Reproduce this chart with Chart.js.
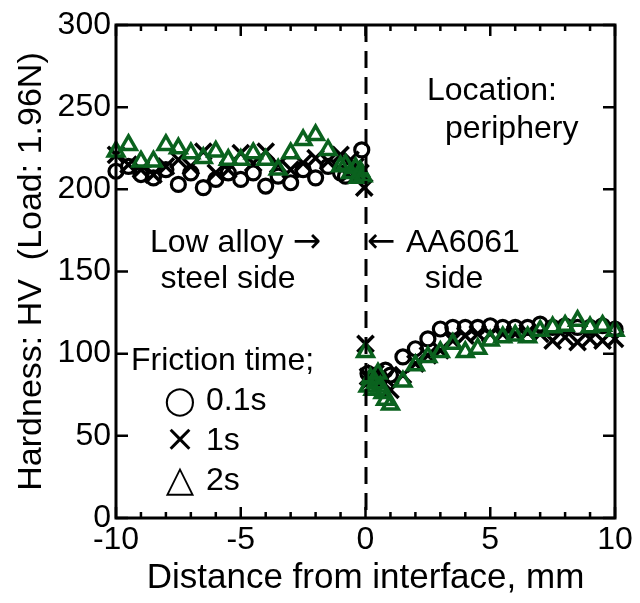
<!DOCTYPE html>
<html>
<head>
<meta charset="utf-8">
<script src="https://cdn.jsdelivr.net/npm/chart.js@4/dist/chart.umd.min.js"></script>
<style>
html, body { margin: 0; padding: 0; background: #fff; }
#wrap { width: 640px; height: 603px; }
</style>
</head>
<body>
<div id="wrap"><canvas id="hvChart"></canvas></div>
<script>

// hardness profiles across the weld interface (periphery)
var dist01 = [-10, -9.5, -9, -8.5, -8, -7.5, -7, -6.5, -6, -5.5, -5, -4.5, -4, -3.5, -3, -2.5, -2, -1.5, -1, -0.8, -0.6, -0.4, -0.15,
              0.1, 0.2, 0.4, 0.6, 0.8, 1, 1.5, 2, 2.5, 3, 3.5, 4, 4.5, 5, 5.5, 6, 6.5, 7, 7.5, 8, 8.5, 9, 9.5, 10];
var hv01 = [211, 214, 209, 207, 212, 203, 210, 201, 206, 210, 206, 210, 202, 208, 204, 212, 207, 214, 210, 208, 212, 210, 224,
            88, 84, 87, 85, 90, 87, 98, 103, 109, 115, 116, 116, 116, 117, 116, 116, 116, 118, 116, 117, 116, 116, 117, 115];

var dist1 = [-10, -9.5, -9, -8.5, -8, -7.5, -7, -6.5, -6, -5.5, -5, -4.5, -4, -3.5, -3, -2.5, -2, -1.5, -1, -0.6, -0.4, -0.2, -0.05,
             0, 0.1, 0.2, 0.4, 0.6, 0.8, 1, 1.5, 2, 2.5, 3, 3.5, 4, 4.5, 5, 5.5, 6, 6.5, 7, 7.5, 8, 8.5, 9, 9.5, 10];
var hv1 = [221, 215, 212, 209, 214, 218, 214, 223, 210, 212, 222, 216, 223, 215, 212, 216, 219, 217, 221, 218, 214, 210, 201,
           106, 86, 84, 88, 82, 85, 78, 87, 94, 99, 102, 108, 111, 112, 112, 112, 112, 113, 112, 108, 110, 107, 109, 108, 109];

var dist2 = [-10, -9.5, -9, -8.5, -8, -7.5, -7, -6.5, -6, -5.5, -5, -4.5, -4, -3.5, -3, -2.5, -2, -1.5, -1, -0.8, -0.6, -0.4, -0.3, -0.2, -0.1,
             0, 0.1, 0.2, 0.3, 0.4, 0.5, 0.6, 0.7, 0.8, 1, 1.5, 2, 2.5, 3, 3.5, 4, 4.5, 5, 5.5, 6, 6.5, 7, 7.5, 8, 8.5, 9, 9.5, 10];
var hv2 = [223, 227, 217, 217, 227, 225, 222, 219, 223, 218, 218, 222, 218, 212, 222, 230, 233, 224, 214, 215, 210, 213, 207, 211, 208,
           101, 80, 85, 78, 82, 88, 80, 76, 72, 69, 83, 93, 98, 101, 106, 101, 103, 108, 110, 111, 110, 114, 116, 117, 120, 116, 117, 114];

var FONT = '"Liberation Sans", Arial, sans-serif';
var SYM_FONT = '"DejaVu Sans", sans-serif';
var GREEN = 'rgb(10, 98, 30)';

function pts(xs, ys) {
    return xs.map(function (v, i) { return { x: v, y: ys[i] }; });
}

// frame with inward ticks, the interface line and the annotations
var frameNotes = {
    id: 'frameNotes',
    afterDatasetsDraw: function (chart) {
        var ctx = chart.ctx, a = chart.chartArea;
        var xs = chart.scales.x, ys = chart.scales.y;
        ctx.save();
        ctx.strokeStyle = '#000';
        ctx.lineWidth = 3;

        var x0 = Math.round(xs.getPixelForValue(0));
        ctx.setLineDash([17, 9]);
        ctx.beginPath();
        ctx.moveTo(x0, a.top);
        ctx.lineTo(x0, a.bottom);
        ctx.stroke();
        ctx.setLineDash([]);

        ctx.strokeRect(a.left, a.top, a.right - a.left, a.bottom - a.top);

        ctx.lineWidth = 2.5;
        ctx.beginPath();
        for (var v = -10; v <= 10; v++) {
            var px = xs.getPixelForValue(v);
            var len = v % 5 === 0 ? 11 : 6;
            ctx.moveTo(px, a.bottom); ctx.lineTo(px, a.bottom - len);
            ctx.moveTo(px, a.top); ctx.lineTo(px, a.top + len);
        }
        for (var h = 0; h <= 300; h += 50) {
            var py = ys.getPixelForValue(h);
            ctx.moveTo(a.left, py); ctx.lineTo(a.left + 12, py);
            ctx.moveTo(a.right, py); ctx.lineTo(a.right - 12, py);
        }
        ctx.stroke();

        ctx.fillStyle = '#000';
        ctx.font = '32px ' + FONT;
        ctx.textBaseline = 'alphabetic';
        ctx.textAlign = 'left';
        ctx.fillText('Location:', 427, 100);
        ctx.fillText('periphery', 445, 138);
        ctx.fillText('Friction time;', 131, 370);
        ctx.fillText('0.1s', 206, 410);
        ctx.fillText('1s', 206, 450);
        ctx.fillText('2s', 206, 490);
        ctx.fillText('Low alloy', 150, 252);
        ctx.fillText('AA6061', 406, 252);

        ctx.textAlign = 'center';
        ctx.fillText('steel side', 228, 288);
        ctx.fillText('side', 454, 288);

        ctx.font = '34px ' + SYM_FONT;
        ctx.fillText('\u2192', 307, 252);
        ctx.fillText('\u2190', 381, 252);

        ctx.font = '37px ' + SYM_FONT;
        ctx.fillText('\u25CB', 180, 412);
        ctx.fillText('\u00D7', 180, 451);
        ctx.fillText('\u25B3', 180, 491);
        ctx.restore();
    }
};

var ctx = document.getElementById('hvChart').getContext('2d');
var hvChart = new Chart(ctx, {
    type: 'scatter',
    data: {
        datasets: [{
            label: '2s',
            data: pts(dist2, hv2),
            pointStyle: 'triangle',
            pointRadius: 9,
            borderWidth: 3.5,
            borderColor: GREEN,
            backgroundColor: 'rgba(0,0,0,0)',
            clip: false
        }, {
            label: '1s',
            data: pts(dist1, hv1),
            pointStyle: 'crossRot',
            pointRadius: 11.5,
            borderWidth: 3.5,
            borderColor: '#000',
            backgroundColor: 'rgba(0,0,0,0)',
            clip: false
        }, {
            label: '0.1s',
            data: pts(dist01, hv01),
            pointStyle: 'circle',
            pointRadius: 7,
            borderWidth: 3.2,
            borderColor: '#000',
            backgroundColor: 'rgba(0,0,0,0)',
            clip: false
        }]
    },
    options: {
        responsive: true,
        maintainAspectRatio: false,
        animation: false,
        events: [],
        layout: {
            padding: { top: 25, right: 25, left: 0, bottom: 0 }
        },
        plugins: {
            legend: { display: false },
            tooltip: { enabled: false }
        },
        scales: {
            x: {
                type: 'linear',
                min: -10,
                max: 10,
                ticks: {
                    stepSize: 5,
                    color: '#000',
                    padding: 3,
                    maxRotation: 0,
                    font: { family: FONT, size: 32 }
                },
                grid: { display: false, drawTicks: false },
                border: { display: false },
                title: {
                    display: true,
                    text: 'Distance from interface, mm',
                    color: '#000',
                    font: { family: FONT, size: 35 },
                    padding: { top: 0, bottom: 4 }
                },
                afterFit: function (s) { s.height = 85; }
            },
            y: {
                min: 0,
                max: 300,
                ticks: {
                    stepSize: 50,
                    color: '#000',
                    padding: 5,
                    font: { family: FONT, size: 32 }
                },
                grid: { display: false, drawTicks: false },
                border: { display: false },
                title: {
                    display: true,
                    text: 'Hardness: HV  (Load: 1.96N)',
                    color: '#000',
                    font: { family: FONT, size: 34 },
                    padding: { top: 11, bottom: 0 }
                },
                afterFit: function (s) { s.width = 116; }
            }
        }
    },
    plugins: [frameNotes]
});

</script>
</body>
</html>
